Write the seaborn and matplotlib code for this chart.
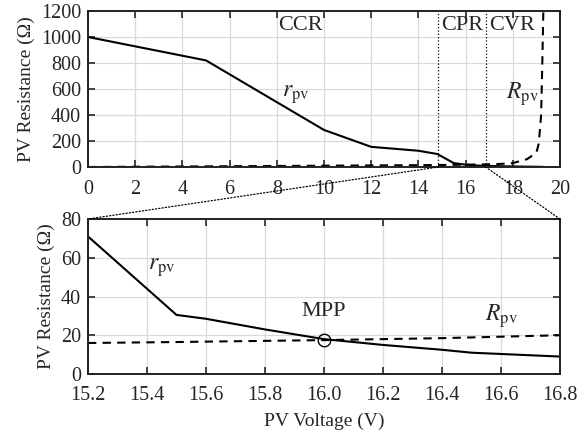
import matplotlib
matplotlib.use("Agg")
import matplotlib.pyplot as plt
from matplotlib.patches import ConnectionPatch
from matplotlib.ticker import FormatStrFormatter
import numpy as np
import pandas as pd
import seaborn as sns

# top panel: full range
r_v = [0, 5, 10, 12, 14, 14.8, 15.5, 16.0, 16.5, 16.8, 17.5, 18.5, 19.3]
r_val = [1000, 820, 285, 155, 125, 100, 30, 18, 11, 9, 6, 3, 1]
R_v = [0, 5, 10, 14, 15.2, 16.0, 16.8, 17.5, 18.0, 18.6, 19.0, 19.1, 19.2, 19.25, 19.3]
R_val = [0, 5, 10, 14, 16, 18, 20, 24, 30, 60, 110, 180, 400, 800, 1250]

# bottom panel: zoom around MPP
zr_v = [15.2, 15.5, 15.6, 15.8, 16.0, 16.2, 16.4, 16.5, 16.8]
zr_val = [71, 30.5, 28.5, 23, 18, 15, 12.5, 11, 9]
zR_v = [15.2, 15.5, 16.0, 16.4, 16.8]
zR_val = [16, 16.5, 17.5, 18.5, 20]
mpp = (16.0, 17.5)
region_edges = [14.85, 16.85]

sns.set_style("ticks")
plt.rcParams["font.family"] = ["Liberation Serif", "DejaVu Serif"]
plt.rcParams["mathtext.fontset"] = "stix"
plt.rcParams["axes.linewidth"] = 1.4

fig = plt.figure(figsize=(5.87, 4.32), dpi=100)
ax1 = fig.add_axes([88 / 587, 1 - 167 / 432, 472 / 587, 156 / 432])
ax2 = fig.add_axes([88 / 587, 1 - 374 / 432, 472 / 587, 155 / 432])

fs = 14.5
for ax in (ax1, ax2):
    ax.grid(True, color="#dadada", linewidth=0.9)
    ax.set_axisbelow(True)
    ax.tick_params(direction="in", top=True, right=True, labelsize=fs,
                   length=5, width=1.2)
    ax.tick_params(axis="x", pad=9)
    ax.tick_params(axis="y", pad=5)
    for s in ax.spines.values():
        s.set_color("#222222")

top = pd.DataFrame({"v": r_v, "r": r_val})
topR = pd.DataFrame({"v": R_v, "r": R_val})
sns.lineplot(data=top, x="v", y="r", ax=ax1, color="black", linewidth=1.5)
sns.lineplot(data=topR, x="v", y="r", ax=ax1, color="black", linewidth=1.5,
             linestyle=(0, (4, 3)))
for e in region_edges:
    ax1.axvline(e, color="black", linestyle=":", linewidth=0.9)
ax1.set_xlim(0, 20)
ax1.set_ylim(0, 1200)
ax1.set_xticks(np.arange(0, 21, 2))
ax1.set_yticks(np.arange(0, 1201, 200))
ax1.set_xlabel("")
ax1.set_ylabel("PV Resistance (Ω)", fontsize=14)
ax1.text(9.0, 1090, "CCR", fontsize=16, ha="center", va="center")
ax1.text(15.85, 1090, "CPR", fontsize=16, ha="center", va="center")
ax1.text(17.95, 1090, "CVR", fontsize=16, ha="center", va="center")
ax1.text(8.8, 560, r"$r_{\mathrm{pv}}$", fontsize=17, ha="center", va="center")
ax1.text(18.4, 560, r"$R_{\mathrm{pv}}$", fontsize=17, ha="center", va="center")

bot = pd.DataFrame({"v": zr_v, "r": zr_val})
botR = pd.DataFrame({"v": zR_v, "r": zR_val})
sns.lineplot(data=bot, x="v", y="r", ax=ax2, color="black", linewidth=1.5)
sns.lineplot(data=botR, x="v", y="r", ax=ax2, color="black", linewidth=1.5,
             linestyle=(0, (4, 3)))
ax2.plot([mpp[0]], [mpp[1]], marker="o", markersize=9, markerfacecolor="none",
         markeredgecolor="black", markeredgewidth=1.0)
ax2.set_xlim(15.2, 16.8)
ax2.set_ylim(0, 80)
ax2.set_xticks(np.arange(15.2, 16.81, 0.2))
ax2.set_yticks(np.arange(0, 81, 20))
ax2.xaxis.set_major_formatter(FormatStrFormatter("%.1f"))
ax2.set_xlabel("PV Voltage (V)", fontsize=14, labelpad=5)
ax2.set_ylabel("PV Resistance (Ω)", fontsize=14)
ax2.text(15.45, 55, r"$r_{\mathrm{pv}}$", fontsize=17, ha="center", va="center")
ax2.text(16.0, 32, "MPP", fontsize=16, ha="center", va="center")
ax2.text(16.6, 30, r"$R_{\mathrm{pv}}$", fontsize=17, ha="center", va="center")

# dotted connectors from zoom region to the lower panel
for e, xb in zip(region_edges, (15.2, 16.8)):
    con = ConnectionPatch(xyA=(e, 0), coordsA=ax1.transData,
                          xyB=(xb, 80), coordsB=ax2.transData,
                          color="black", linestyle=":", linewidth=0.9)
    fig.add_artist(con)

fig.savefig("out.png", dpi=100)
